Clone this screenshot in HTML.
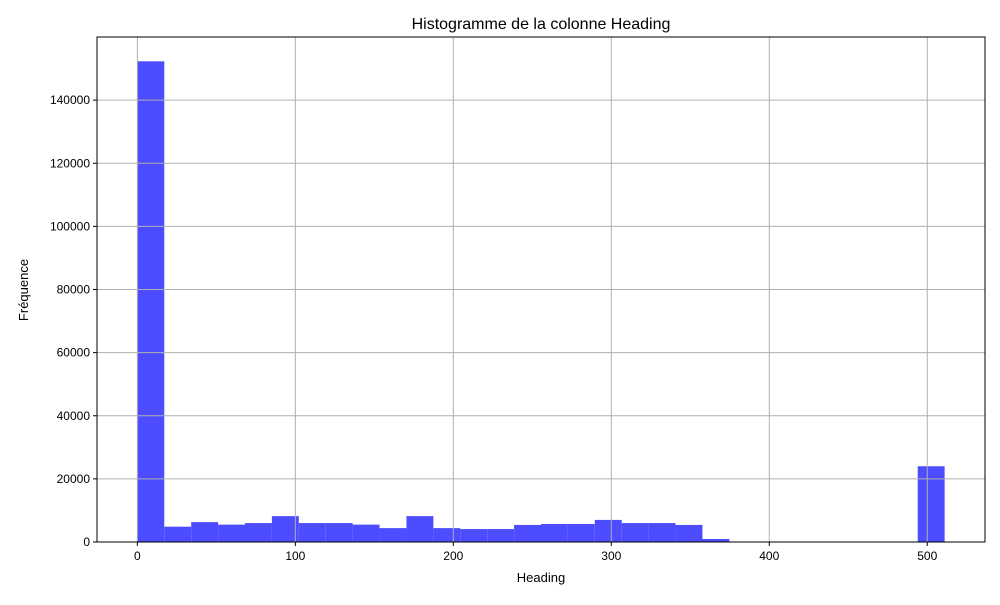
<!DOCTYPE html>
<html><head><meta charset="utf-8"><style>body{margin:0;background:#fff}svg{font-family:"Liberation Sans",sans-serif}</style></head>
<body>
<svg id="chart" width="1000" height="600" xmlns="http://www.w3.org/2000/svg">
<rect width="1000" height="600" fill="#fff"/>
<text x="541" y="29" font-size="16" text-anchor="middle" fill="#000">Histogramme de la colonne Heading</text>
<g id="bars"></g><g id="grid"></g><g id="axes"></g>
<text x="541" y="582" font-size="13" text-anchor="middle">Heading</text>
<text transform="translate(28,290) rotate(-90)" font-size="13" text-anchor="middle">Fréquence</text>
</svg>
<script>
const binStart = 0;
const binEnd = 511;
const counts = [152300,4850,6300,5500,6000,8200,6000,6000,5500,4400,8200,4400,4100,4100,5400,5700,5700,7000,6000,6000,5400,950,0,0,0,0,0,0,0,24000];
const xTicks = [0,100,200,300,400,500];
const yTicks = [0,20000,40000,60000,80000,100000,120000,140000];
const L=97,R=985,T=37,B=542;
const xMin=-25.55,xMax=536.55,yMax=160000;
const sx=v=>L+(v-xMin)/(xMax-xMin)*(R-L);
const sy=v=>B-v/yMax*(B-T);
const NS="http://www.w3.org/2000/svg";
function mk(tag,attrs,parent){const e=document.createElementNS(NS,tag);for(const k in attrs)e.setAttribute(k,attrs[k]);document.getElementById(parent).appendChild(e);return e;}
const w=(binEnd-binStart)/counts.length;
counts.forEach((c,i)=>{if(c<=0)return;const x0=sx(binStart+i*w),x1=sx(binStart+(i+1)*w);
const r=mk('rect',{x:x0,y:sy(c),width:x1-x0,height:B-sy(c),fill:'#4d4dff'},'bars');

});
xTicks.forEach(t=>{const x=sx(t);
const g=mk('line',{x1:x,x2:x,y1:T,y2:B,stroke:'#b0b0b0','stroke-width':1},'grid');


mk('line',{x1:x,x2:x,y1:B,y2:B+4,stroke:'#000'},'axes');
const tx=mk('text',{x:x,y:B+18,'font-size':12,'text-anchor':'middle'},'axes');tx.textContent=t;

});
yTicks.forEach(t=>{const y=sy(t);
const g=mk('line',{x1:L,x2:R,y1:y,y2:y,stroke:'#b0b0b0','stroke-width':1},'grid');


mk('line',{x1:L-4,x2:L,y1:y,y2:y,stroke:'#000'},'axes');
const tx=mk('text',{x:L-7,y:y+4,'font-size':12,'text-anchor':'end'},'axes');tx.textContent=t;

});
const f=mk('rect',{x:L,y:T,width:R-L,height:B-T,fill:'none',stroke:'#000','stroke-width':1},'axes');


</script>
</body></html>
